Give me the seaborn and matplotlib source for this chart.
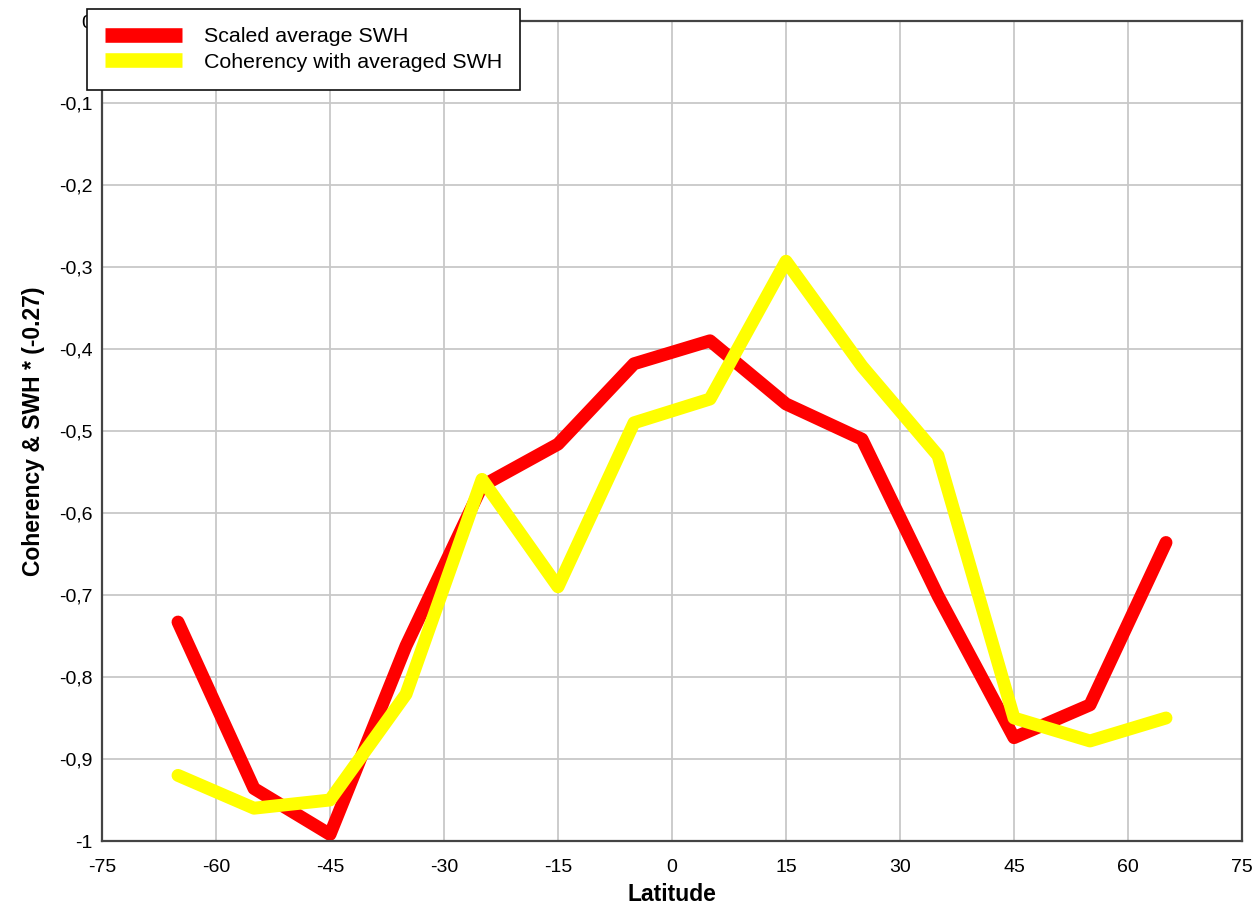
import numpy as np
import pandas as pd
import matplotlib.pyplot as plt
import seaborn as sns
from matplotlib.lines import Line2D

# values
latitude = [-65, -55, -45, -35, -25, -15, -5, 5, 15, 25, 35, 45, 55, 65]
scaled_swh = [-0.733, -0.936, -0.992, -0.762, -0.567, -0.516, -0.418, -0.390,
              -0.467, -0.510, -0.701, -0.874, -0.834, -0.636]
coherency = [-0.920, -0.960, -0.950, -0.821, -0.559, -0.690, -0.490, -0.461,
             -0.293, -0.421, -0.530, -0.850, -0.878, -0.850]

x_ticks = [-75, -60, -45, -30, -15, 0, 15, 30, 45, 60, 75]
y_ticks = [-1.0, -0.9, -0.8, -0.7, -0.6, -0.5, -0.4, -0.3, -0.2, -0.1, 0.0]
y_labels = ["-1", "-0,9", "-0,8", "-0,7", "-0,6", "-0,5", "-0,4", "-0,3", "-0,2", "-0,1", "0"]

df = pd.DataFrame({"Latitude": latitude,
                   "Scaled average SWH": scaled_swh,
                   "Coherency with averaged SWH": coherency})
long_df = df.melt(id_vars="Latitude", var_name="series", value_name="value")

sns.set_style("white")
plt.rcParams["font.family"] = ["Liberation Sans", "DejaVu Sans"]
plt.rcParams["text.color"] = "black"
plt.rcParams["axes.labelcolor"] = "black"
plt.rcParams["xtick.color"] = "black"
plt.rcParams["ytick.color"] = "black"

fig = plt.figure(figsize=(12.56, 9.10), dpi=100)
ax = fig.add_axes([102 / 1256, 69 / 910, 1140 / 1256, 820 / 910])

sns.lineplot(data=long_df, x="Latitude", y="value", hue="series",
             palette={"Scaled average SWH": "#ff0000",
                      "Coherency with averaged SWH": "#ffff00"},
             linewidth=9.3, ax=ax, legend=False,
             solid_capstyle="round", solid_joinstyle="round")

ax.set_xlim(-75, 75)
ax.set_ylim(-1, 0)
ax.set_xticks(x_ticks)
ax.set_yticks(y_ticks)
ax.set_xticklabels([str(v) for v in x_ticks], fontsize=14)
ax.set_yticklabels(y_labels, fontsize=14)
ax.tick_params(axis="y", length=0, pad=7)
ax.tick_params(axis="x", length=0, pad=13)
ax.grid(True, color="#c8c8c8", linewidth=1.3)
ax.set_axisbelow(True)
for s in ax.spines.values():
    s.set_color("#444444")
    s.set_linewidth(1.6)

ax.set_xlabel("Latitude", fontsize=16.5, fontweight="bold", labelpad=5)
ax.set_ylabel("Coherency & SWH * (-0.27)", fontsize=16.5, fontweight="bold", labelpad=10)

handles = [Line2D([], [], color="#ff0000", linewidth=10.5, solid_capstyle="butt"),
           Line2D([], [], color="#ffff00", linewidth=10.5, solid_capstyle="butt")]
leg = fig.legend(handles, ["Scaled average SWH", "Coherency with averaged SWH"],
                 loc="upper left", bbox_to_anchor=(87 / 1256, 1 - 9 / 910),
                 frameon=True, fancybox=False, fontsize=15.4, handlelength=3.6,
                 borderpad=0.85, labelspacing=0.3, handletextpad=1.0,
                 borderaxespad=0)
leg.get_frame().set_edgecolor("#111111")
leg.get_frame().set_linewidth(1.2)
leg.get_frame().set_alpha(1)

fig.savefig("out.png", dpi=100)
